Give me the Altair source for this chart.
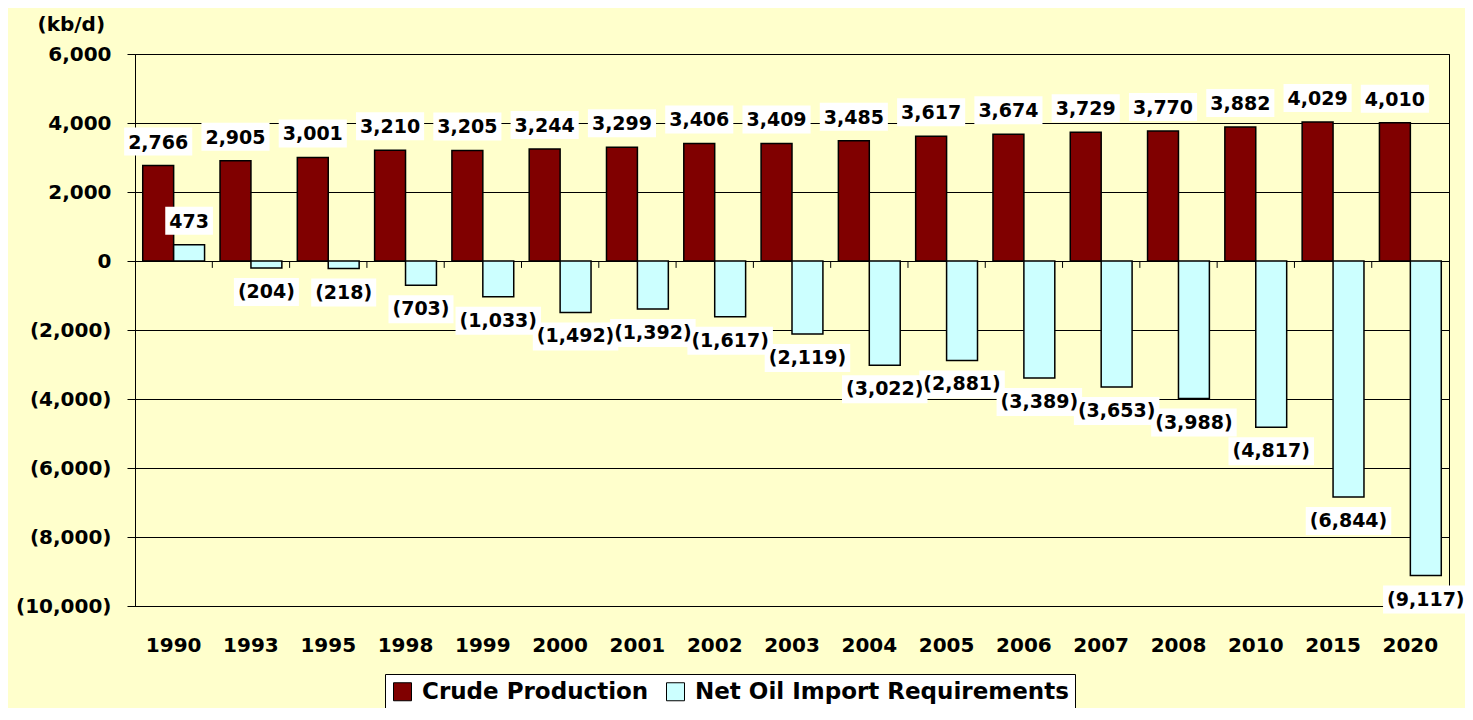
import altair as alt
import pandas as pd

# ---- data ----
years = ["1990", "1993", "1995", "1998", "1999", "2000", "2001", "2002", "2003",
         "2004", "2005", "2006", "2007", "2008", "2010", "2015", "2020"]
crude = [2766, 2905, 3001, 3210, 3205, 3244, 3299, 3406, 3409,
         3485, 3617, 3674, 3729, 3770, 3882, 4029, 4010]
imports = [473, -204, -218, -703, -1033, -1492, -1392, -1617, -2119,
           -3022, -2881, -3389, -3653, -3988, -4817, -6844, -9117]
series_names = ["Crude Production", "Net Oil Import Requirements"]
y_ticks = [6000, 4000, 2000, 0, -2000, -4000, -6000, -8000, -10000]

colors = ["#800000", "#CCFFFF"]
BG = "#FFFFCC"
FONT = "DejaVu Sans"
LBL_SIZE = 19


def fmt(v):
    return f"({abs(v):,})" if v < 0 else f"{v:,}"


CHAR_W = {",": 0.38, "(": 0.457, ")": 0.457}
K = 50.0  # custom symbol scale: sqrt(size)/2


def box_path(label, value):
    w = sum(CHAR_W.get(c, 0.696) for c in label) * LBL_SIZE + 8
    hw = w / 2 / K
    c = -24 if value >= 0 else 24
    top, bot = (c - 14) / K, (c + 14) / K
    return f"M{-hw:.3f},{top:.3f}H{hw:.3f}V{bot:.3f}H{-hw:.3f}Z"


rows = []
for yr, c, m in zip(years, crude, imports):
    for s, v in zip(series_names, (c, m)):
        lab = fmt(v)
        rows.append({"year": yr, "series": s, "value": v, "label": lab,
                     "box": box_path(lab, v)})
df = pd.DataFrame(rows)

x_scale = alt.Scale(paddingInner=0.2, paddingOuter=0.1)
x_enc = alt.X("year:N", sort=years, scale=x_scale,
              axis=alt.Axis(title=None, domain=False, ticks=False, grid=False,
                            labelAngle=0, labelFont=FONT, labelFontSize=20,
                            labelFontWeight="bold", labelColor="black",
                            labelPadding=29))
label_expr = ("datum.value < 0 ? '(' + format(-datum.value, ',') + ')' : "
              "format(datum.value, ',') + '\u2007'")
y_enc = alt.Y("value:Q",
              scale=alt.Scale(domain=[-10000, 6000], nice=False),
              axis=alt.Axis(values=y_ticks, labelExpr=label_expr,
                            grid=True, gridColor="black", gridWidth=1,
                            tickColor="black", tickSize=8, tickWidth=1,
                            domainColor="black", domainWidth=1,
                            labelFont=FONT, labelFontSize=20,
                            labelFontWeight="bold", labelColor="black",
                            labelPadding=16,
                            title="(kb/d)", titleAngle=0, titleAlign="left",
                            titleBaseline="middle", titleX=-98, titleY=-30,
                            titleFont=FONT, titleFontSize=20,
                            titleFontWeight="bold", titleColor="black"))
xo = alt.XOffset("series:N", sort=series_names)

base = alt.Chart(df)

bars = base.mark_bar(stroke="black", strokeWidth=1.5).encode(
    x=x_enc, xOffset=xo, y=y_enc,
    color=alt.Color("series:N", sort=series_names,
                    scale=alt.Scale(domain=series_names, range=colors),
                    legend=alt.Legend(orient="none", legendX=250, legendY=620,
                                      title=None, direction="horizontal",
                                      fillColor="white", strokeColor="black",
                                      padding=6, symbolType="square",
                                      symbolSize=324, symbolStrokeColor="black",
                                      symbolStrokeWidth=1,
                                      labelFont=FONT, labelFontSize=23,
                                      labelFontWeight="bold", labelColor="black",
                                      labelLimit=600,
                                      labelOffset=8, columnPadding=15)),
)

boxes = base.mark_point(filled=True, fill="white", opacity=1, strokeWidth=0,
                        size=K * K * 4).encode(
    x=alt.X("year:N", sort=years, scale=x_scale), xOffset=xo,
    y=alt.Y("value:Q"),
    shape=alt.Shape("box:N", scale=None),
)

txt_kw = dict(font=FONT, fontSize=LBL_SIZE, fontWeight="bold", color="black",
              baseline="middle", align="center")
pos_text = base.transform_filter("datum.value >= 0").mark_text(dy=-23, **txt_kw).encode(
    x=alt.X("year:N", sort=years, scale=x_scale), xOffset=xo,
    y=alt.Y("value:Q"), text="label:N")
neg_text = base.transform_filter("datum.value < 0").mark_text(dy=24, **txt_kw).encode(
    x=alt.X("year:N", sort=years, scale=x_scale), xOffset=xo,
    y=alt.Y("value:Q"), text="label:N")

tick_df = pd.DataFrame({"year": years[1:]})
zero_ticks = alt.Chart(tick_df).mark_rule(color="black", strokeWidth=1,
                                          xOffset=-7.7).encode(
    x=alt.X("year:N", sort=years, scale=x_scale, bandPosition=0),
    y=alt.datum(0), y2=alt.datum(-200))

chart = alt.layer(bars, zero_ticks, boxes, pos_text, neg_text).properties(
    width=1314, height=552,
    autosize=alt.AutoSizeParams(type="none"),
    padding={"left": 127, "top": 46, "right": 16, "bottom": 102},
    background=BG,
).configure_view(stroke="black", strokeWidth=1, fill=BG)

chart.save("out.html", embed_options={"renderer": "svg", "actions": False})
